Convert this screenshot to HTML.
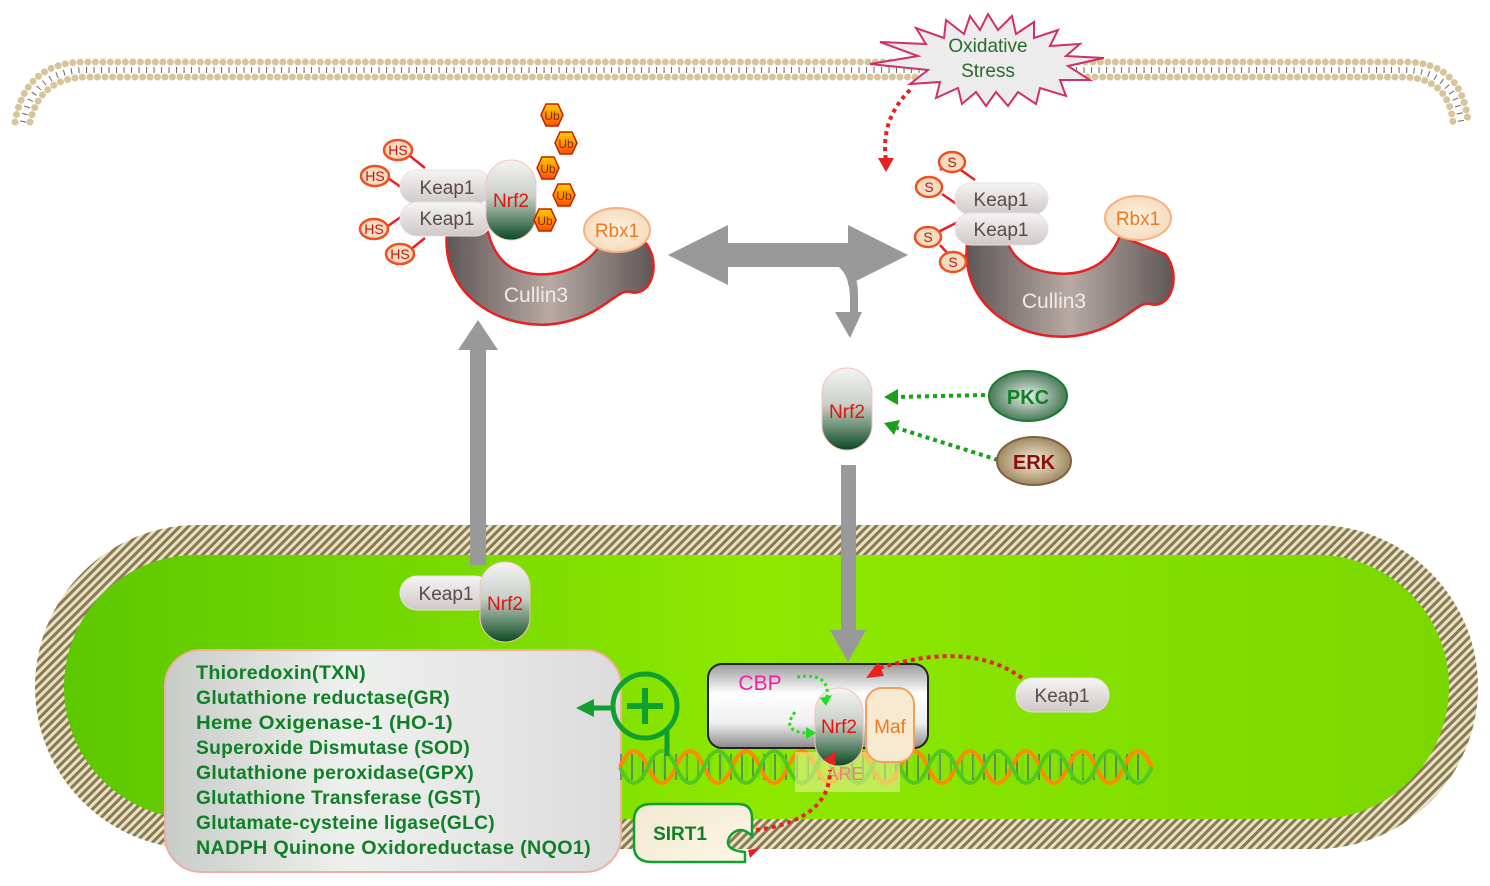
<!DOCTYPE html>
<html><head><meta charset="utf-8"><style>
html,body{margin:0;padding:0;background:#fff;}
svg{display:block;font-family:"Liberation Sans",sans-serif;}
</style></head><body>
<svg width="1490" height="886" viewBox="0 0 1490 886" xmlns="http://www.w3.org/2000/svg">
<defs>
<pattern id="hatch" width="6" height="6" patternUnits="userSpaceOnUse" patternTransform="rotate(45)">
<rect width="6" height="6" fill="#e8e2c8"/><rect width="3" height="6" fill="#8a7a50"/></pattern>
<linearGradient id="green" x1="0" y1="0" x2="1" y2="0"><stop offset="0" stop-color="#5cc800"/><stop offset="0.5" stop-color="#8ee800"/><stop offset="1" stop-color="#7ad800"/></linearGradient>
<linearGradient id="nrf" x1="0" y1="0" x2="0" y2="1"><stop offset="0" stop-color="#f4f4f4"/><stop offset="0.45" stop-color="#c8d0c8"/><stop offset="1" stop-color="#0a4a20"/></linearGradient>
<linearGradient id="keap" x1="0" y1="0" x2="0" y2="1"><stop offset="0" stop-color="#f6f4f4"/><stop offset="1" stop-color="#cfc8c8"/></linearGradient>
<linearGradient id="cul" x1="0" y1="0" x2="1" y2="0"><stop offset="0" stop-color="#5e5656"/><stop offset="0.5" stop-color="#b8aaa4"/><stop offset="1" stop-color="#5e5656"/></linearGradient>
<radialGradient id="rbx"><stop offset="0" stop-color="#fff3e0"/><stop offset="1" stop-color="#f5dcc0"/></radialGradient>
<linearGradient id="cbp" x1="0" y1="0" x2="0" y2="1"><stop offset="0" stop-color="#9a9a9a"/><stop offset="0.35" stop-color="#fff"/><stop offset="0.7" stop-color="#f0f0f0"/><stop offset="1" stop-color="#8a8a8a"/></linearGradient>
<linearGradient id="box" x1="0" y1="0" x2="1" y2="0"><stop offset="0" stop-color="#c8ccc8"/><stop offset="0.4" stop-color="#eef0ee"/><stop offset="1" stop-color="#dcdcdc"/></linearGradient>
<linearGradient id="ub" x1="0" y1="0" x2="0" y2="1"><stop offset="0" stop-color="#ffd000"/><stop offset="1" stop-color="#ff5000"/></linearGradient>
<radialGradient id="pkc"><stop offset="0" stop-color="#e8f0e8"/><stop offset="1" stop-color="#4a7a5a"/></radialGradient>
<radialGradient id="erk"><stop offset="0" stop-color="#f8f0dc"/><stop offset="1" stop-color="#a08860"/></radialGradient>
<linearGradient id="sirt" x1="0" y1="0" x2="1" y2="1"><stop offset="0" stop-color="#f0e8d0"/><stop offset="1" stop-color="#fff6e6"/></linearGradient>
</defs>

<!-- membrane -->
<g fill="none" stroke-linecap="round">
<path d="M15,122 Q25,62 85,62 L1405,62 Q1462,62 1468,122" stroke="#d8c49a" stroke-width="7" stroke-dasharray="0 7.5"/>
<path d="M30,122 Q40,77 88,77 L1402,77 Q1448,77 1453,122" stroke="#d8c49a" stroke-width="7" stroke-dasharray="0 7.5"/>
<path d="M23,122 Q33,70 87,70 L1403,70 Q1455,70 1461,122" stroke="#666" stroke-width="6" stroke-dasharray="1 6.5" stroke-linecap="butt"/>
</g>

<!-- oxidative stress burst -->
<polygon fill="#ececec" stroke="#d0306a" stroke-width="2" points="988,14 998,30 1012,16 1016,34 1034,22 1034,38 1058,30 1050,46 1080,44 1066,56 1104,58 1068,66 1090,80 1060,80 1066,96 1040,88 1036,104 1018,92 1008,106 996,92 986,106 976,92 962,104 958,88 936,98 940,82 910,84 928,70 870,64 918,56 880,42 926,44 916,28 944,38 946,20 964,34 970,16 980,30"/>
<text x="988" y="52" font-size="19" fill="#2a6a2a" text-anchor="middle">Oxidative</text>
<text x="988" y="77" font-size="19" fill="#2a6a2a" text-anchor="middle">Stress</text>
<path d="M910,90 Q880,120 886,160" fill="none" stroke="#e82020" stroke-width="4" stroke-dasharray="4 4"/>
<polygon points="878,158 894,158 886,172" fill="#e82020"/>

<!-- nucleus -->
<rect x="35" y="525" width="1443" height="324" rx="162" fill="url(#hatch)"/>
<rect x="64" y="555" width="1385" height="264" rx="132" fill="url(#green)"/>

<!-- left complex -->
<g stroke="#e82020" stroke-width="2.5">
<line x1="410" y1="156" x2="425" y2="168"/><line x1="388" y1="178" x2="405" y2="190"/>
<line x1="388" y1="226" x2="405" y2="214"/><line x1="410" y1="250" x2="425" y2="238"/>
</g>
<path d="M447,232 C440,300 510,335 565,322 C605,313 618,288 630,292 C652,298 662,262 645,242 L600,245 C585,270 545,283 512,268 C495,258 490,240 488,232 Z" fill="url(#cul)" stroke="#e82020" stroke-width="2.5"/>
<text x="536" y="302" font-size="21" fill="#f0eaea" text-anchor="middle">Cullin3</text>
<ellipse cx="617" cy="230" rx="33" ry="22" fill="url(#rbx)" stroke="#f8b080" stroke-width="2"/>
<text x="617" y="237" font-size="19" fill="#f07820" text-anchor="middle">Rbx1</text>
<rect x="400" y="170" width="92" height="34" rx="17" fill="url(#keap)" stroke="#e8e0e0"/>
<rect x="400" y="202" width="92" height="34" rx="17" fill="url(#keap)" stroke="#e8e0e0"/>
<text x="447" y="194" font-size="19" fill="#5a4a4a" text-anchor="middle">Keap1</text>
<text x="447" y="225" font-size="19" fill="#5a4a4a" text-anchor="middle">Keap1</text>
<rect x="486" y="160" width="50" height="80" rx="25" fill="url(#nrf)" stroke="#f8c0c0"/>
<text x="511" y="207" font-size="19" fill="#e81010" text-anchor="middle">Nrf2</text>
<g font-size="14" fill="#c01818" text-anchor="middle">
<ellipse cx="398" cy="150" rx="14" ry="10" fill="#f4dcc0" stroke="#f05020" stroke-width="2.5"/><text x="398" y="155">HS</text>
<ellipse cx="375" cy="176" rx="14" ry="10" fill="#f4dcc0" stroke="#f05020" stroke-width="2.5"/><text x="375" y="181">HS</text>
<ellipse cx="374" cy="229" rx="14" ry="10" fill="#f4dcc0" stroke="#f05020" stroke-width="2.5"/><text x="374" y="234">HS</text>
<ellipse cx="400" cy="254" rx="14" ry="10" fill="#f4dcc0" stroke="#f05020" stroke-width="2.5"/><text x="400" y="259">HS</text>
</g>
<g font-size="12" fill="#803000" text-anchor="middle" stroke-width="1.5">
<polygon points="541,115 546,104 558,104 563,115 558,126 546,126" fill="url(#ub)" stroke="#c02000"/><text x="552" y="120">Ub</text>
<polygon points="555,143 560,132 572,132 577,143 572,154 560,154" fill="url(#ub)" stroke="#c02000"/><text x="566" y="148">Ub</text>
<polygon points="537,168 542,157 554,157 559,168 554,179 542,179" fill="url(#ub)" stroke="#c02000"/><text x="548" y="173">Ub</text>
<polygon points="553,195 558,184 570,184 575,195 570,206 558,206" fill="url(#ub)" stroke="#c02000"/><text x="564" y="200">Ub</text>
<polygon points="534,220 539,209 551,209 556,220 551,231 539,231" fill="url(#ub)" stroke="#c02000"/><text x="545" y="225">Ub</text>
</g>

<!-- right complex -->
<g stroke="#e82020" stroke-width="2.5">
<line x1="940" y1="170" x2="952" y2="162"/><line x1="958" y1="168" x2="975" y2="180"/>
<line x1="942" y1="194" x2="958" y2="205"/><line x1="938" y1="232" x2="958" y2="222"/>
<line x1="940" y1="245" x2="950" y2="256"/><line x1="965" y1="256" x2="978" y2="244"/>
</g>
<path d="M967,244 C960,312 1030,347 1085,334 C1125,325 1138,300 1150,304 C1172,310 1182,274 1165,254 L1120,236 C1105,275 1065,280 1032,268 C1015,260 1010,248 1008,244 Z" fill="url(#cul)" stroke="#e82020" stroke-width="2.5"/>
<text x="1054" y="308" font-size="21" fill="#f0eaea" text-anchor="middle">Cullin3</text>
<ellipse cx="1138" cy="218" rx="33" ry="22" fill="url(#rbx)" stroke="#f8b080" stroke-width="2"/>
<text x="1138" y="225" font-size="19" fill="#f07820" text-anchor="middle">Rbx1</text>
<rect x="955" y="183" width="93" height="32" rx="16" fill="url(#keap)" stroke="#e8e0e0"/>
<rect x="955" y="213" width="93" height="32" rx="16" fill="url(#keap)" stroke="#e8e0e0"/>
<text x="1001" y="206" font-size="19" fill="#5a4a4a" text-anchor="middle">Keap1</text>
<text x="1001" y="236" font-size="19" fill="#5a4a4a" text-anchor="middle">Keap1</text>
<g font-size="14" fill="#c01818" text-anchor="middle">
<ellipse cx="952" cy="162" rx="13" ry="10" fill="#f4dcc0" stroke="#f05020" stroke-width="2.5"/><text x="952" y="167">S</text>
<ellipse cx="929" cy="187" rx="13" ry="10" fill="#f4dcc0" stroke="#f05020" stroke-width="2.5"/><text x="929" y="192">S</text>
<ellipse cx="928" cy="237" rx="13" ry="10" fill="#f4dcc0" stroke="#f05020" stroke-width="2.5"/><text x="928" y="242">S</text>
<ellipse cx="953" cy="262" rx="13" ry="10" fill="#f4dcc0" stroke="#f05020" stroke-width="2.5"/><text x="953" y="267">S</text>
</g>

<!-- big gray arrows -->
<g fill="#999">
<polygon points="668,255 728,225 728,243 848,243 848,225 908,255 848,285 848,267 728,267 728,285"/>
<path d="M822,262 Q850,262 850,300 L850,312 L835,312 L850,338 L862,312 L858,312 L858,292 Q856,258 830,256 Z"/>
<polygon points="470,565 486,565 486,350 498,350 478,320 458,350 470,350"/>
<polygon points="841,465 856,465 856,630 866,630 848,662 830,630 841,630"/>
</g>

<!-- cytoplasmic Nrf2 -->
<rect x="822" y="368" width="50" height="82" rx="25" fill="url(#nrf)" stroke="#f8c0c0"/>
<text x="847" y="418" font-size="19" fill="#e81010" text-anchor="middle">Nrf2</text>
<g stroke="#18a018" stroke-width="4" stroke-dasharray="4 4" fill="none">
<line x1="985" y1="395" x2="895" y2="397"/><line x1="998" y1="460" x2="897" y2="428"/></g>
<polygon points="884,397 898,389 898,405" fill="#18a018"/>
<polygon points="884,423 900,420 894,435" fill="#18a018"/>
<ellipse cx="1028" cy="396" rx="39" ry="25" fill="url(#pkc)" stroke="#1a7a30" stroke-width="2"/>
<text x="1028" y="404" font-size="20" font-weight="bold" fill="#108028" text-anchor="middle">PKC</text>
<ellipse cx="1034" cy="461" rx="37" ry="24" fill="url(#erk)" stroke="#806040" stroke-width="2"/>
<text x="1034" y="469" font-size="20" font-weight="bold" fill="#8a1010" text-anchor="middle">ERK</text>

<!-- nuclear Keap1-Nrf2 -->
<rect x="400" y="576" width="92" height="34" rx="17" fill="url(#keap)" stroke="#e8e0e0"/>
<text x="446" y="600" font-size="19" fill="#5a4a4a" text-anchor="middle">Keap1</text>
<rect x="480" y="562" width="50" height="80" rx="25" fill="url(#nrf)" stroke="#f8c0c0"/>
<text x="505" y="610" font-size="19" fill="#e81010" text-anchor="middle">Nrf2</text>

<!-- gene list -->
<rect x="165" y="650" width="456" height="222" rx="36" fill="url(#box)" stroke="#f0b0a0" stroke-width="2"/>
<g font-size="19.5" fill="#108028" font-weight="bold" letter-spacing="0.3">
<text x="196" y="679" textLength="170" lengthAdjust="spacingAndGlyphs">Thioredoxin(TXN)</text>
<text x="196" y="704" textLength="254" lengthAdjust="spacingAndGlyphs">Glutathione reductase(GR)</text>
<text x="196" y="729" textLength="257" lengthAdjust="spacingAndGlyphs">Heme Oxigenase-1 (HO-1)</text>
<text x="196" y="754" textLength="274" lengthAdjust="spacingAndGlyphs">Superoxide Dismutase (SOD)</text>
<text x="196" y="779" textLength="278" lengthAdjust="spacingAndGlyphs">Glutathione peroxidase(GPX)</text>
<text x="196" y="804" textLength="285" lengthAdjust="spacingAndGlyphs">Glutathione Transferase (GST)</text>
<text x="196" y="829" textLength="299" lengthAdjust="spacingAndGlyphs">Glutamate-cysteine ligase(GLC)</text>
<text x="196" y="854" textLength="395" lengthAdjust="spacingAndGlyphs">NADPH Quinone Oxidoreductase (NQO1)</text>
</g>

<!-- DNA -->
<g fill="none" stroke-width="4">
<path d="M620,767 L1140,767" stroke="#3040a0" stroke-width="26" stroke-dasharray="2 9" opacity="0.5"/>
<path d="M625,767 L1140,767" stroke="#60e020" stroke-width="22" stroke-dasharray="3 9" opacity="0.5"/>
<path d="M620,767 q14,-32 28,0 t28,0 t28,0 t28,0 t28,0 t28,0 t28,0 t28,0 t28,0 t28,0 t28,0 t28,0 t28,0 t28,0 t28,0 t28,0 t28,0 t28,0 t28,0" stroke="#ff8a00"/>
<path d="M620,767 q14,32 28,0 t28,0 t28,0 t28,0 t28,0 t28,0 t28,0 t28,0 t28,0 t28,0 t28,0 t28,0 t28,0 t28,0 t28,0 t28,0 t28,0 t28,0 t28,0" stroke="#50c820"/>
</g>
<rect x="795" y="752" width="105" height="40" fill="#f0f0a0" opacity="0.55"/>
<text x="845" y="780" font-size="18" fill="#f08080" text-anchor="middle">ARE</text>

<!-- CBP -->
<rect x="708" y="664" width="220" height="84" rx="14" fill="url(#cbp)" stroke="#222" stroke-width="2"/>
<text x="760" y="690" font-size="21" fill="#f020a0" text-anchor="middle">CBP</text>
<rect x="815" y="688" width="48" height="78" rx="24" fill="url(#nrf)" stroke="#f8c0c0"/>
<text x="839" y="733" font-size="19" fill="#e81010" text-anchor="middle">Nrf2</text>
<rect x="866" y="688" width="48" height="74" rx="16" fill="#f8ead0" stroke="#f0a060" stroke-width="2"/>
<text x="890" y="733" font-size="19" fill="#f07820" text-anchor="middle">Maf</text>
<g stroke="#20e020" stroke-width="3" stroke-dasharray="3 3" fill="none">
<path d="M797,677 Q830,672 827,697"/><path d="M795,712 Q780,732 808,733"/></g>
<polygon points="820,698 832,695 826,706" fill="#20e020"/>
<polygon points="806,727 816,733 806,739" fill="#20e020"/>

<!-- Keap1 right -->
<rect x="1016" y="678" width="93" height="34" rx="17" fill="url(#keap)" stroke="#e8e0e0"/>
<text x="1062" y="702" font-size="19" fill="#5a4a4a" text-anchor="middle">Keap1</text>
<path d="M1022,678 Q970,640 880,668" fill="none" stroke="#e82020" stroke-width="4" stroke-dasharray="4 4"/>
<polygon points="866,678 878,662 884,676" fill="#e82020"/>

<!-- plus -->
<circle cx="645" cy="706" r="32" fill="none" stroke="#10a030" stroke-width="5"/>
<path d="M645,688 V724 M627,706 H663" stroke="#10a030" stroke-width="6"/>
<line x1="667" y1="730" x2="667" y2="756" stroke="#10a030" stroke-width="5"/>
<line x1="612" y1="708" x2="592" y2="708" stroke="#10a030" stroke-width="5"/>
<polygon points="576,708 594,699 594,717" fill="#10a030"/>

<!-- SIRT1 -->
<path d="M652,804 L738,804 Q752,804 752,818 L752,836 Q740,824 730,836 Q722,850 745,852 L745,862 L652,862 Q634,862 634,846 L634,820 Q634,804 652,804 Z" fill="url(#sirt)" stroke="#10a030" stroke-width="2.5"/>
<text x="680" y="840" font-size="19" fill="#108028" font-weight="bold" text-anchor="middle">SIRT1</text>
<path d="M756,830 Q830,820 830,770" fill="none" stroke="#e82020" stroke-width="4" stroke-dasharray="4 4"/>
<polygon points="823,760 835,752 836,766" fill="#e82020"/>
<polygon points="748,850 760,848 750,858" fill="#e82020"/>
</svg>
</body></html>
